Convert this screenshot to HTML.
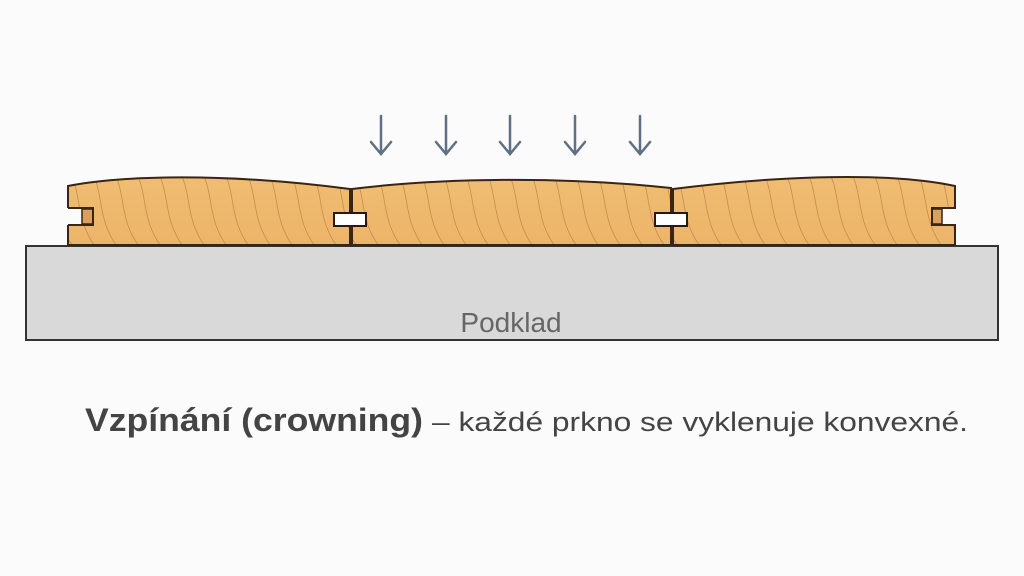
<!DOCTYPE html>
<html><head><meta charset="utf-8"><style>
html,body{margin:0;padding:0;background:#fbfbfb;}
svg{display:block}
</style></head><body>
<svg width="1024" height="576" viewBox="0 0 1024 576" xmlns="http://www.w3.org/2000/svg">
<defs>
<linearGradient id="wood" x1="0" y1="0" x2="0" y2="1">
<stop offset="0" stop-color="#f0bd72"/><stop offset="1" stop-color="#ecb468"/>
</linearGradient>
<clipPath id="c1"><path d="M68,186 C120,176 220,172 350,189 L350,245 L68,245 Z"/></clipPath>
<clipPath id="c2"><path d="M352,189 C440,178 560,176 671,188 L671,245 L352,245 Z"/></clipPath>
<clipPath id="c3"><path d="M673,189 C760,178 880,170 955,186 L955,245 L673,245 Z"/></clipPath>
<g id="grain" fill="none" stroke="#b27a3c" stroke-width="0.8" opacity="0.7">
<path d="M0,170 C15,190 5,220 30,250"/><path d="M22,170 C37,190 27,220 52,250"/><path d="M44,170 C59,190 49,220 74,250"/>
<path d="M66,170 C81,190 71,220 96,250"/><path d="M88,170 C103,190 93,220 118,250"/><path d="M110,170 C125,190 115,220 140,250"/>
<path d="M132,170 C147,190 137,220 162,250"/><path d="M154,170 C169,190 159,220 184,250"/><path d="M176,170 C191,190 181,220 206,250"/>
<path d="M198,170 C213,190 203,220 228,250"/><path d="M220,170 C235,190 225,220 250,250"/><path d="M242,170 C257,190 247,220 272,250"/>
<path d="M264,170 C279,190 269,220 294,250"/><path d="M286,170 C301,190 291,220 316,250"/><path d="M308,170 C323,190 313,220 338,250"/>
<path d="M-22,170 C-7,190 -17,220 8,250"/><path d="M-44,170 C-29,190 -39,220 -14,250"/>
</g>
</defs>
<rect x="26" y="246" width="972" height="94" fill="#d9d9d9" stroke="#333" stroke-width="2"/>
<text x="511" y="332" font-family="Liberation Sans, sans-serif" font-size="28" fill="#666" text-anchor="middle">Podklad</text>
<path d="M68,186 C120,176 220,172 350,189 L350,245 L68,245 Z" fill="url(#wood)"/>
<g clip-path="url(#c1)"><use href="#grain" x="68"/></g>
<path d="M352,189 C440,178 560,176 671,188 L671,245 L352,245 Z" fill="url(#wood)"/>
<g clip-path="url(#c2)"><use href="#grain" x="352"/></g>
<path d="M673,189 C760,178 880,170 955,186 L955,245 L673,245 Z" fill="url(#wood)"/>
<g clip-path="url(#c3)"><use href="#grain" x="673"/></g>
<g fill="none" stroke="#3a2412" stroke-width="2">
<path d="M68,186 C120,176 220,172 350,189 L350,245 L68,245 Z"/>
<path d="M352,189 C440,178 560,176 671,188 L671,245 L352,245 Z"/>
<path d="M673,189 C760,178 880,170 955,186 L955,245 L673,245 Z"/>
</g>
<rect x="67" y="208" width="26" height="17" fill="#fbfbfb"/>
<rect x="82" y="209" width="11" height="15" fill="#d9a060" stroke="#3a2412" stroke-width="1.5"/>
<path d="M68,208 L93,208 L93,225 L68,225" fill="none" stroke="#3a2412" stroke-width="2"/>
<rect x="932" y="209" width="24" height="15" fill="#fbfbfb"/>
<rect x="932" y="209" width="10" height="15" fill="#d9a060" stroke="#3a2412" stroke-width="1.5"/>
<path d="M955,208 L932,208 L932,225 L955,225" fill="none" stroke="#3a2412" stroke-width="2"/>
<rect x="334" y="213" width="32" height="13" fill="#fff" stroke="#2a1a0c" stroke-width="2"/>
<rect x="655" y="213" width="32" height="13" fill="#fff" stroke="#2a1a0c" stroke-width="2"/>
<g stroke="#5f6f84" stroke-width="2.5" fill="none" stroke-linecap="round">
<path d="M381,116 V154 M371,142 L381,154 L391,142"/>
<path d="M446,116 V154 M436,142 L446,154 L456,142"/>
<path d="M510,116 V154 M500,142 L510,154 L520,142"/>
<path d="M575,116 V154 M565,142 L575,154 L585,142"/>
<path d="M640,116 V154 M630,142 L640,154 L650,142"/>
</g>
<text x="85" y="431" font-family="Liberation Sans, sans-serif" font-size="32" font-weight="bold" fill="#444" textLength="338" lengthAdjust="spacingAndGlyphs">Vzpínání (crowning)</text>
<text x="432" y="431" font-family="Liberation Sans, sans-serif" font-size="27" fill="#444" textLength="536" lengthAdjust="spacingAndGlyphs">– každé prkno se vyklenuje konvexné.</text>
</svg>
</body></html>
